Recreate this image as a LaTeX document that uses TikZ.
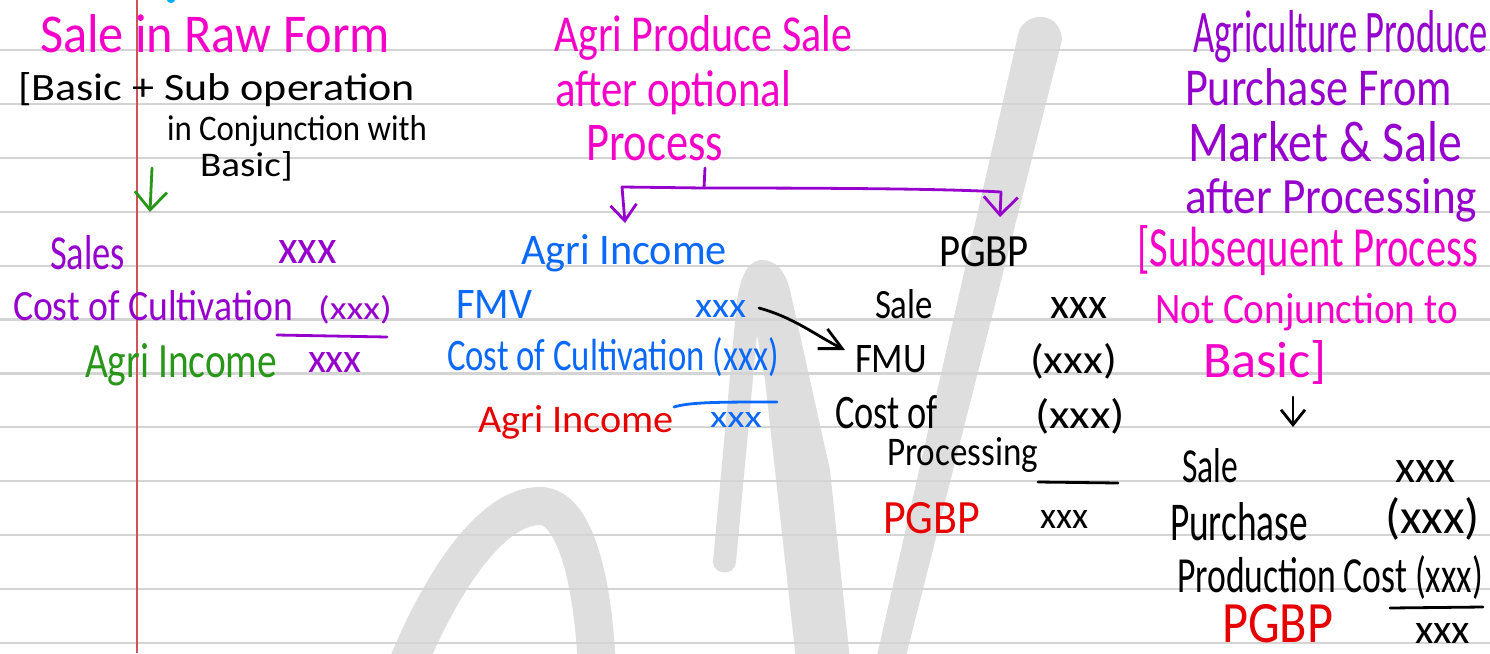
\documentclass[tikz,border=0pt]{standalone}
\usepackage{fontspec}
\setmainfont{Carlito}
\usetikzlibrary{arrows.meta}
\definecolor{cmag}{RGB}{245,0,200}
\definecolor{cpur}{RGB}{150,0,205}
\definecolor{cblu}{RGB}{10,105,250}
\definecolor{cgrn}{RGB}{40,150,25}
\definecolor{cred}{RGB}{230,0,0}
\definecolor{rulecol}{RGB}{212,212,212}
\definecolor{margincol}{RGB}{205,85,85}
\definecolor{wmark}{RGB}{222,222,222}
% handwritten-style label: width, height above baseline, text
\newcommand{\hw}[3]{\resizebox{#1pt}{#2pt}{\fontsize{40}{40}\selectfont #3}}
\begin{document}
\begin{tikzpicture}[x=1pt,y=-1pt,
  hand/.style={inner sep=0pt,outer sep=0pt,anchor=base west},
  pen/.style={line width=2.8pt,line cap=round,line join=round}]
\useasboundingbox (0,0) rectangle (1490,653);
\fill[white] (0,0) rectangle (1490,653);

% faint watermark strokes
\fill[wmark] (713,562) -- (737,300) .. controls (742,268) and (752,260) .. (762,260)
  .. controls (775,260) and (785,270) .. (790,290) -- (830,470) -- (850,660)
  -- (796,660) -- (765,380) -- (757,335) -- (736,562)
  .. controls (735,576) and (714,576) .. cycle;
\fill[wmark] (1018,35) .. controls (1022,12) and (1060,8) .. (1062,40) -- (905,660) -- (876,660) -- cycle;
\draw[wmark,line width=38pt] (406,668) .. controls (440,585) and (490,506) .. (540,506)
  .. controls (575,506) and (593,580) .. (597,668);

% ruled paper
\foreach \k in {0,...,11}
  \draw[rulecol,line width=2.2pt] (0,{50+53.9*\k}) -- (1490,{50+53.9*\k});
\draw[margincol,line width=1.2pt] (137,0) -- (137,653);
\fill[cyan] (171,0) ellipse (4 and 3);

% ---- left column: sale in raw form
\node[hand,text=cmag] (t1) at (40,52) {\hw{350}{38}{Sale in Raw Form}};
\node[hand] (t2) at (18,100) {\hw{397}{28}{[Basic + Sub operation}};
\node[hand] (t3) at (167,140) {\hw{260}{25}{in Conjunction with}};
\node[hand] (t4) at (200,176) {\hw{93}{25}{Basic]}};
\coordinate (ga1) at (152,168);
\coordinate (ga2) at (150,212);
\draw[pen,cgrn,-{Straight Barb[length=18pt,width=32pt]}] (ga1) -- (ga2);

\node[hand,text=cpur] (t5) at (50,269) {\hw{75}{34}{Sales}};
\node[hand,text=cpur] (t6) at (278,263) {\hw{59}{23}{xxx}};
\node[hand,text=cpur] (t7) at (13,320) {\hw{280}{30}{Cost of Cultivation}};
\node[hand,text=cpur] (t8) at (318,319) {\hw{74}{24}{(xxx)}};
\draw[pen,cpur] (277,335) -- (387,337);
\node[hand,text=cgrn] (t9) at (85,377) {\hw{192}{34}{Agri Income}};
\node[hand,text=cpur] (t10) at (308,372) {\hw{54}{20}{xxx}};

% ---- middle column: sale after optional process
\node[hand,text=cmag] (m1) at (554,51) {\hw{298}{36}{Agri Produce Sale}};
\node[hand,text=cmag] (m2) at (555,106) {\hw{236}{36}{after optional}};
\node[hand,text=cmag] (m3) at (586,160) {\hw{137}{35}{Process}};
\coordinate (tick) at (705,168);
\coordinate (brC) at (704,188);
\coordinate (brL) at (622,187);
\coordinate (brR) at (1001,192);
\coordinate (aiTop) at (625,223);
\coordinate (pgTop) at (1000,217);
\draw[pen,cpur] (tick) -- (brC);
\draw[pen,cpur] (brL) -- (brC) .. controls (850,188) and (950,189) .. (brR);
\draw[pen,cpur,-{Straight Barb[length=16pt,width=26pt]}] (brL) -- (aiTop);
\draw[pen,cpur,-{Straight Barb[length=18pt,width=34pt]}] (brR) -- (pgTop);

\node[hand,text=cblu] (m4) at (521,264) {\hw{206}{30}{Agri Income}};
\node[hand] (m5) at (939,266) {\hw{90}{30}{PGBP}};
\node[hand,text=cblu] (m6) at (456,318) {\hw{76}{28}{FMV}};
\node[hand,text=cblu] (m7) at (695,317) {\hw{51}{17}{xxx}};
\node[hand,text=cblu] (m8) at (447,370) {\hw{332}{33}{Cost of Cultivation (xxx)}};
\draw[pen,cblu] (674,407) .. controls (690,402) and (720,402) .. (777,402);
\node[hand,text=cred] (m9) at (478,432) {\hw{196}{27}{Agri Income}};
\node[hand,text=cblu] (m10) at (710,427) {\hw{52}{15}{xxx}};

\node[hand] (m11) at (875,318) {\hw{58}{29}{Sale}};
\node[hand] (m12) at (1050,318) {\hw{57}{21}{xxx}};
\node[hand] (m13) at (855,372) {\hw{72}{27}{FMU}};
\node[hand] (m14) at (1030,373) {\hw{87}{30}{(xxx)}};
\node[hand] (m15) at (835,428) {\hw{103}{33}{Cost of}};
\node[hand] (m16) at (1035,428) {\hw{90}{30}{(xxx)}};
\node[hand] (m17) at (887,465) {\hw{151}{28}{Processing}};
\draw[pen] (1038,482) -- (1118,483);
\node[hand,text=cred] (m18) at (883,533) {\hw{97}{31}{PGBP}};
\node[hand] (m19) at (1040,528) {\hw{48}{18}{xxx}};
\coordinate (arS) at (759,308);
\coordinate (arE) at (845,350);
\draw[pen,-{Straight Barb[length=22pt,width=22pt]}] (arS) .. controls (795,318) and (815,335) .. (arE);

% ---- right column: purchase from market and processing
\node[hand,text=cpur] (r1) at (1193,52) {\hw{295}{42}{Agriculture Produce}};
\node[hand,text=cpur] (r2) at (1185,105) {\hw{267}{37}{Purchase From}};
\node[hand,text=cpur] (r3) at (1188,161) {\hw{274}{40}{Market \& Sale}};
\node[hand,text=cpur] (r4) at (1185,213) {\hw{292}{35}{after Processing}};
\node[hand,text=cmag] (r5) at (1137,266) {\hw{341}{41}{[Subsequent Process}};
\node[hand,text=cmag] (r6) at (1155,323) {\hw{303}{30}{Not Conjunction to}};
\node[hand,text=cmag] (r7) at (1203,377) {\hw{124}{37}{Basic]}};
\coordinate (sa1) at (1293,397);
\coordinate (sa2) at (1293,427);
\draw[pen,-{Straight Barb[length=15pt,width=24pt]}] (sa1) -- (sa2);
\node[hand] (r8) at (1182,482) {\hw{56}{34}{Sale}};
\node[hand] (r9) at (1395,482) {\hw{60}{22}{xxx}};
\node[hand] (r10) at (1170,540) {\hw{138}{38}{Purchase}};
\node[hand] (r11) at (1385,533) {\hw{95}{36}{(xxx)}};
\node[hand] (r12) at (1177,592) {\hw{306}{37}{Production Cost (xxx)}};
\draw[pen] (1390,608) -- (1483,607);
\node[hand,text=cred] (r13) at (1222,642) {\hw{111}{38}{PGBP}};
\node[hand] (r14) at (1415,643) {\hw{55}{20}{xxx}};
\end{tikzpicture}
\end{document}
